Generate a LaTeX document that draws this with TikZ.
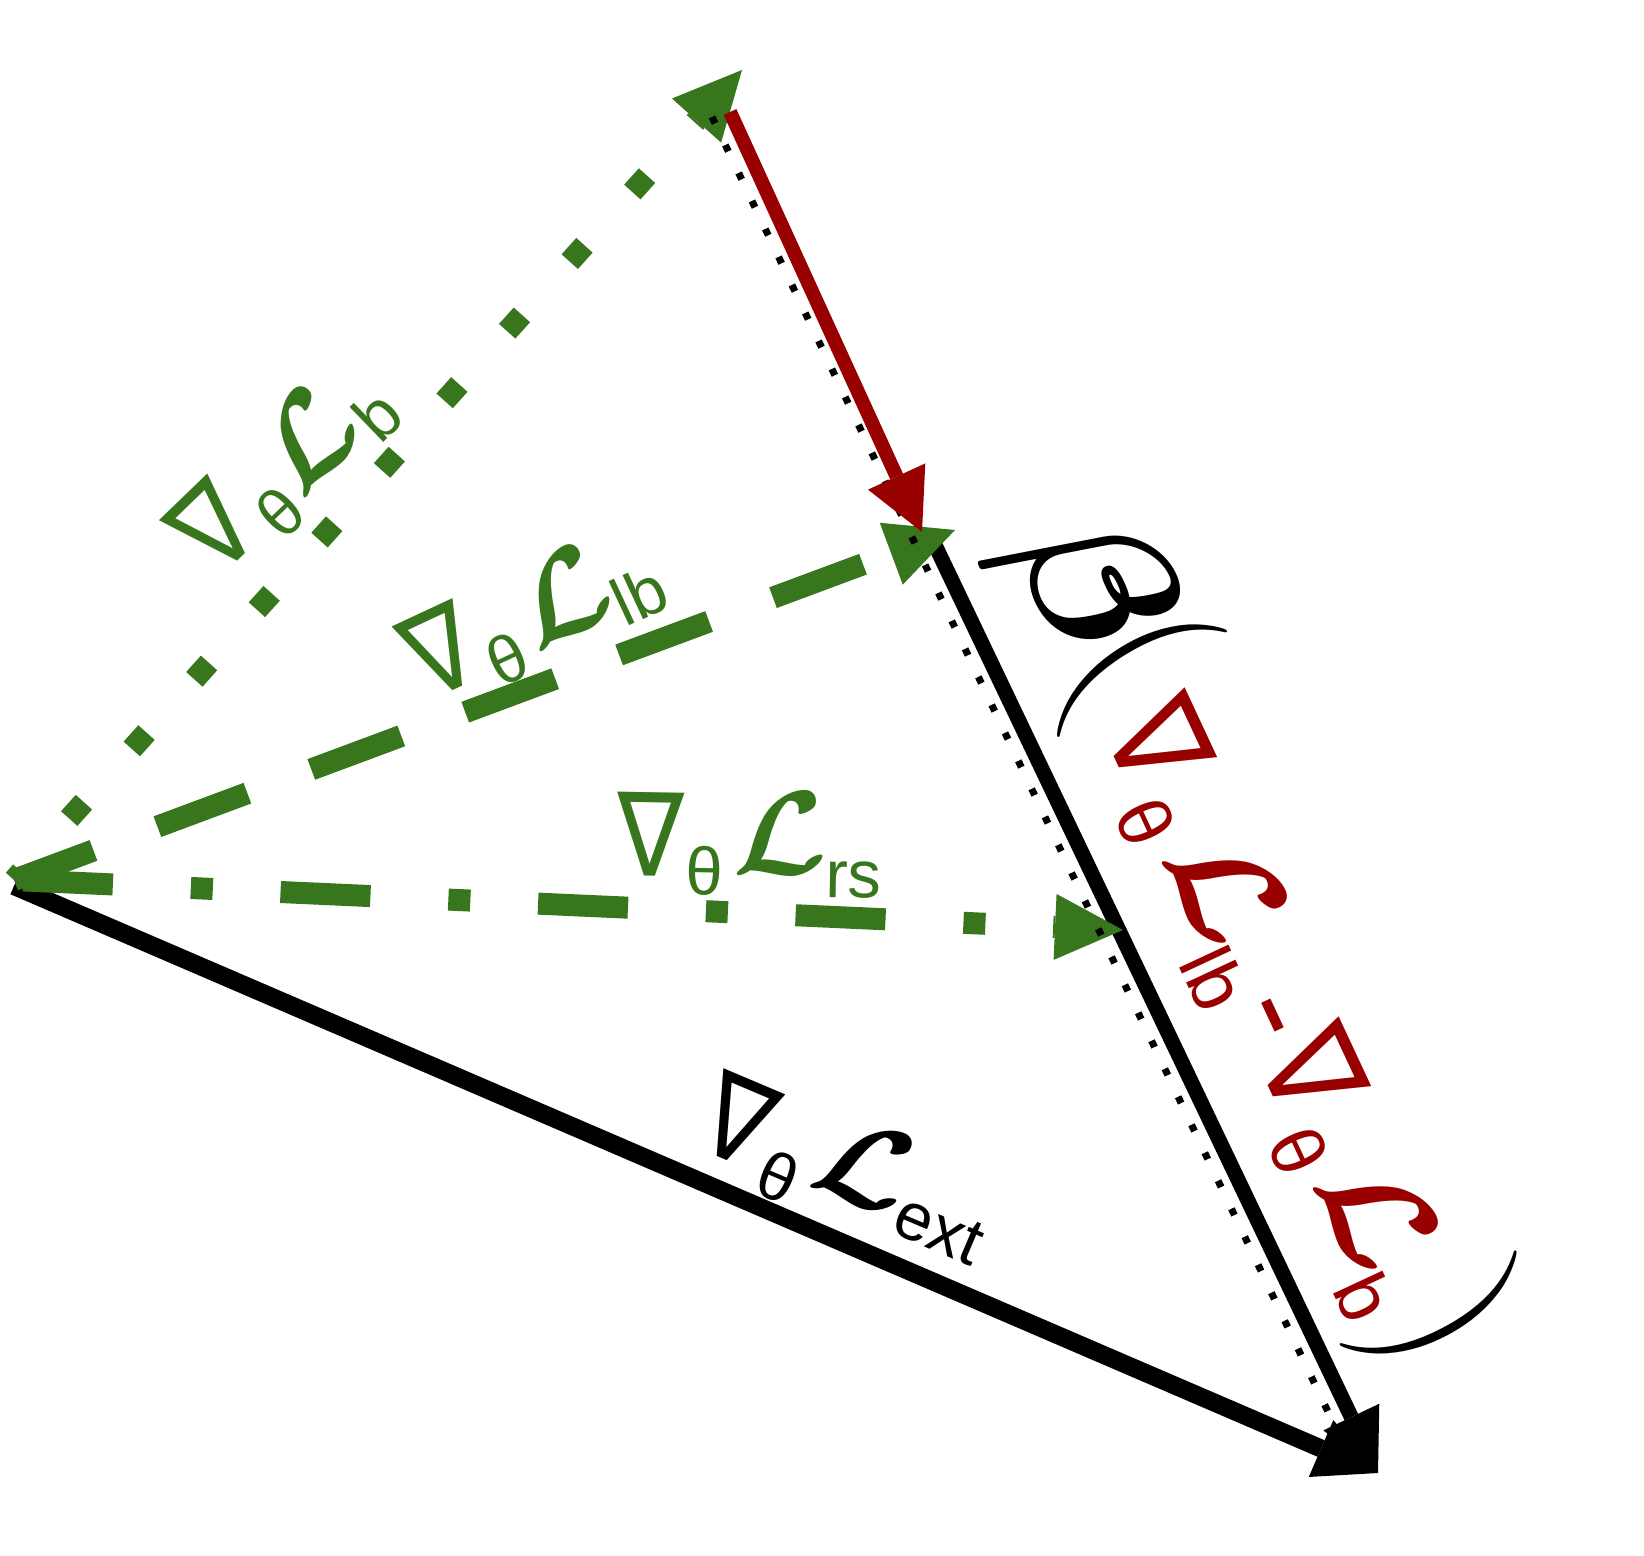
\RequirePackage{fix-cm}
\documentclass[tikz,border=0pt]{standalone}
\usepackage{graphicx}
\usepackage{bm}
\usepackage{fontspec}
\usetikzlibrary{arrows.meta}
\newfontfamily\dvf{DejaVu Sans}
\newfontfamily\lsf{Liberation Sans}
\definecolor{gcol}{RGB}{56,118,29}
\definecolor{rcol}{RGB}{153,0,0}
\newlength\pxu \setlength\pxu{0.5pt}
\newcommand\ctrbox[1]{\hbox to 0pt{\hss#1\hss}}
\newcommand\gat[3]{\rlap{\kern#1\pxu\ctrbox{\raisebox{#2\pxu}{#3}}}}
% green/black label glyphs
\newcommand\nab{{\fontsize{58}{60}\selectfont\dvf\scalebox{0.86}[1]{∇}}}
\newcommand\subt[1]{{\fontsize{33.5}{35}\selectfont\lsf #1}}
\newcommand\cL{{\fontsize{60}{60}\selectfont$\bm{\mathcal{L}}$}}
% red label glyphs (slightly larger)
\newcommand\rnab{{\fontsize{65}{67}\selectfont\dvf\scalebox{0.88}[1]{∇}}}
\newcommand\rhy{{\fontsize{65}{67}\selectfont\lsf -}}
\newcommand\rsubt[1]{{\fontsize{37.5}{39}\selectfont\lsf #1}}
\newcommand\rcL{{\fontsize{70}{70}\selectfont$\bm{\mathcal{L}}$}}
\begin{document}
\begin{tikzpicture}[x=0.5pt,y=-0.5pt,
  gline/.style={draw=gcol,line width=11pt},
  gtip/.style={-{Triangle[length=34pt,width=33pt,line width=0pt]}},
  btip/.style={-{Triangle[length=31pt,width=31pt,line width=0pt]}},
  rtip/.style={-{Triangle[length=30.5pt,width=31.5pt,line width=0pt]}},
  lab/.style={inner sep=0pt,outer sep=0pt,anchor=base west},
  big/.style={inner sep=0pt,outer sep=0pt,anchor=center}]
\fill[white] (0,0) rectangle (1644,1556);
\useasboundingbox (0,0) rectangle (1644,1556);
% points
\coordinate (O) at (14,880);
\coordinate (Oe) at (14,886);
\coordinate (Tb) at (742,70);
\coordinate (Tlb) at (955,530);
\coordinate (Trs) at (1123,930);
\coordinate (Rs) at (730,112);
\coordinate (Rt) at (922,532);
\coordinate (L0) at (935,545);
\coordinate (E) at (1378,1473);
\coordinate (D0) at (712,117);
\coordinate (D1) at (1350,1458);
% black vectors
\draw[line width=9pt, btip] (Oe) -- (E);
\draw[line width=7.5pt, btip] (L0) -- (E);
% green vectors
\draw[gline, gtip, dash pattern=on 11pt off 35.8pt, dash phase=5.5pt] (O) -- (Tb);
\draw[gline, gtip, dash pattern=on 48pt off 34.1pt, dash phase=5.6pt] (O) -- (Tlb);
\draw[gline, gtip, dash pattern=on 45pt off 39pt on 11pt off 33.9pt, dash phase=124.4pt] (O) -- (Trs);
% black dotted
\draw[line width=3.5pt, dash pattern=on 3.5pt off 12pt] (D0) -- (D1);
% red vector
\draw[rcol, line width=7pt, rtip] (Rs) -- (Rt);
% labels
\node[lab, text=gcol, rotate=44] (labb) at (241.1,558.1)
  {\gat{0}{0}{\nab}\gat{58.8}{-18}{\subt{θ}}\gat{129}{0}{\cL}\gat{196}{-16}{\subt{b}}};
\node[lab, text=gcol, rotate=25] (lablb) at (457,689)
  {\gat{0}{0}{\nab}\gat{57.1}{-18}{\subt{θ}}\gat{133}{0}{\cL}\gat{204}{-16}{\subt{lb}}};
\node[lab, text=gcol, rotate=-1] (labrs) at (648.9,876)
  {\gat{0}{0}{\nab}\gat{54.1}{-18}{\subt{θ}}\gat{130}{4}{\cL}\gat{203.6}{-18}{\subt{rs}}};
\node[lab, text=black, rotate=-23] (labext) at (720.9,1158.3)
  {\gat{0}{0}{\nab}\gat{58.9}{-18}{\subt{θ}}\gat{134.7}{10}{\cL}\gat{227.4}{-2}{\subt{ext}}};
\node[lab, text=rcol, rotate=-65] (labred) at (1116.4,760.8)
  {\gat{0}{0}{\rnab}\gat{66.5}{-26}{\rsubt{θ}}\gat{160}{0}{\rcL}\gat{237.5}{-30}{\rsubt{lb}}\gat{295.9}{0}{\rhy}\gat{364}{0}{\rnab}\gat{429.5}{-26}{\rsubt{θ}}\gat{519}{0}{\rcL}\gat{590}{-29}{\rsubt{b}}};
\node[big, rotate=-65] (beta) at (1084,584) {\fontsize{98}{98}\selectfont$\bm{\beta}$};
\node[big, rotate=-58] (lpar) at (1130,663) {\fontsize{100}{100}\selectfont(};
\node[big, rotate=-62] (rpar) at (1440,1320) {\fontsize{100}{100}\selectfont)};
\end{tikzpicture}
\end{document}
